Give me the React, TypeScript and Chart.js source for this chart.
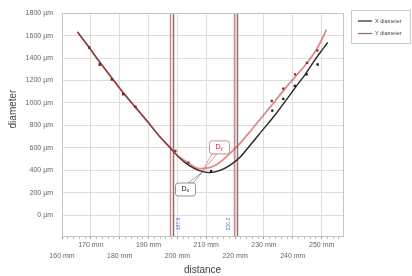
import React, { useEffect, useRef } from 'react';
import { Chart, registerables } from 'chart.js';

Chart.register(...registerables);

// ---- data (mm / µm) ----
const fitYmm = [165.35, 169.41, 173.23, 177.4, 181.22, 185.39, 189.56, 193.73, 197.2, 200.68, 204.15, 207.63, 211.1, 214.58, 218.05, 221.52, 225.0, 229.5, 233.7, 237.8, 241.7, 245.1, 248.6, 251.7];
const fitYum = [1633, 1495, 1359, 1219, 1091, 964, 837, 705, 608, 521, 459, 415, 424, 468, 547, 635, 740, 881, 1012, 1144, 1258, 1363, 1495, 1653];
const fitXmm = [165.35, 169.41, 173.23, 177.4, 181.22, 185.39, 189.56, 193.73, 197.2, 200.68, 204.15, 207.63, 211.1, 214.58, 218.05, 221.52, 225.0, 229.5, 233.7, 237.8, 241.3, 244.4, 246.9, 249.3, 252.1];
const fitXum = [1633, 1495, 1359, 1219, 1091, 964, 837, 705, 610, 512, 442, 398, 380, 398, 442, 512, 617, 758, 889, 1030, 1153, 1258, 1355, 1443, 1539];

const ptsYmm = [169.4, 173.1, 177.3, 181.2, 185.4, 199.3, 203.8, 232.7, 236.7, 240.8, 244.9, 248.5];
const ptsYum = [1495, 1343, 1211, 1079, 965, 573, 468, 1018, 1129, 1256, 1357, 1466];
const ptsXmm = [169.4, 173.1, 177.3, 181.2, 185.4, 211.7, 232.9, 236.7, 240.7, 244.8, 248.6];
const ptsXum = [1495, 1343, 1211, 1079, 965, 392, 933, 1036, 1153, 1255, 1343];

const yTickValues = [0, 200, 400, 600, 800, 1000, 1200, 1400, 1600, 1800];

const markerRedMm = [197.4, 219.6];
const markerDarkMm = [198.6, 220.8];
const markerNotes = ['197.9', '220.2'];

const dyAnchor = { x: 208.7, y: 395 };
const dxAnchor = { x: 208.7, y: 385 };

const seriesNames = ['X diameter', 'Y diameter'];
const xTitle = 'distance';
const yTitle = 'diameter';

const X_MIN = 160;
const X_MAX = 257.4;
const Y_MIN = -185;
const Y_MAX = 1800;

const RED = 'rgba(205,70,70,0.62)';
const DARK = '#262626';
const FONT = '"Liberation Sans", Arial, sans-serif';

const toXY = (xs: number[], ys: number[]) => xs.map((x, i) => ({ x, y: ys[i] }));

const decor = {
  id: 'decor',
  beforeDatasetsDraw(chart: any) {
    const { ctx, chartArea: a, scales } = chart;
    const xs = scales.x;
    ctx.save();
    const vline = (v: number, color: string) => {
      const px = Math.round(xs.getPixelForValue(v)) + 0.5;
      ctx.strokeStyle = color;
      ctx.lineWidth = 1.5;
      ctx.beginPath();
      ctx.moveTo(px, a.top);
      ctx.lineTo(px, a.bottom);
      ctx.stroke();
    };
    markerRedMm.forEach((v) => vline(v, 'rgba(195,130,130,0.9)'));
    markerDarkMm.forEach((v) => vline(v, 'rgba(125,100,100,0.9)'));
    ctx.fillStyle = '#4a78b8';
    ctx.font = `5px ${FONT}`;
    ctx.textAlign = 'center';
    ctx.textBaseline = 'middle';
    markerNotes.forEach((t, i) => {
      const base = i === 0 ? xs.getPixelForValue(markerDarkMm[0]) + 5 : xs.getPixelForValue(markerRedMm[1]) - 5;
      ctx.save();
      ctx.translate(base, a.bottom - 12);
      ctx.rotate(-Math.PI / 2);
      ctx.fillText(t, 0, 0);
      ctx.restore();
    });
    ctx.restore();
  },
  afterDraw(chart: any) {
    const { ctx, chartArea: a, scales } = chart;
    const xs = scales.x;
    const ys = scales.y;
    ctx.save();
    ctx.strokeStyle = '#c4c4c4';
    ctx.lineWidth = 1;
    ctx.strokeRect(Math.round(a.left) + 0.5, Math.round(a.top) + 0.5, Math.round(a.right - a.left), Math.round(a.bottom - a.top));

    const callout = (anchor: { x: number; y: number }, dx: number, dy: number, label: string, stroke: string, text: string, fromTop: boolean) => {
      const ax = xs.getPixelForValue(anchor.x);
      const ay = ys.getPixelForValue(anchor.y);
      const w = 20;
      const h = 13;
      const bx = ax + dx;
      const by = ay + dy;
      const px = fromTop ? bx + w - 5 : bx + 5;
      const py = fromTop ? by : by + h;
      ctx.beginPath();
      ctx.moveTo(px - 2.5, py);
      ctx.lineTo(ax, ay);
      ctx.lineTo(px + 2.5, py);
      ctx.closePath();
      ctx.fillStyle = '#ffffff';
      ctx.fill();
      ctx.strokeStyle = stroke;
      ctx.lineWidth = 0.8;
      ctx.stroke();
      const r = 2.5;
      ctx.beginPath();
      ctx.moveTo(bx + r, by);
      ctx.arcTo(bx + w, by, bx + w, by + h, r);
      ctx.arcTo(bx + w, by + h, bx, by + h, r);
      ctx.arcTo(bx, by + h, bx, by, r);
      ctx.arcTo(bx, by, bx + w, by, r);
      ctx.closePath();
      ctx.fillStyle = '#ffffff';
      ctx.fill();
      ctx.strokeStyle = stroke;
      ctx.lineWidth = 0.9;
      ctx.stroke();
      ctx.fillStyle = text;
      ctx.font = `7px ${FONT}`;
      ctx.textAlign = 'left';
      ctx.textBaseline = 'middle';
      ctx.fillText(label[0], bx + 6, by + h / 2);
      const w0 = ctx.measureText(label[0]).width;
      ctx.font = `5px ${FONT}`;
      ctx.fillText(label.slice(1), bx + 6 + w0, by + h / 2 + 1.5);
    };
    callout(dyAnchor, 7, -30, 'Dy', '#d08080', '#b03030', false);
    callout(dxAnchor, -27, 11, 'Dx', '#888888', '#222222', true);

    ctx.fillStyle = '#444444';
    ctx.font = `10px ${FONT}`;
    ctx.textAlign = 'center';
    ctx.textBaseline = 'middle';
    ctx.fillText(xTitle, (a.left + a.right) / 2, 270);
    ctx.save();
    ctx.translate(13, 109);
    ctx.rotate(-Math.PI / 2);
    ctx.fillText(yTitle, 0, 0);
    ctx.restore();

    const lx = 351;
    const ly = 10;
    ctx.fillStyle = '#ffffff';
    ctx.fillRect(lx, ly, 59, 33);
    ctx.strokeStyle = '#cccccc';
    ctx.lineWidth = 1;
    ctx.strokeRect(lx + 0.5, ly + 0.5, 59, 33);
    const colors = [DARK, 'rgb(200,80,80)'];
    ctx.font = `5.5px ${FONT}`;
    ctx.textAlign = 'left';
    ctx.textBaseline = 'middle';
    seriesNames.forEach((n, i) => {
      const yy = ly + 11 + i * 12.5;
      ctx.strokeStyle = colors[i];
      ctx.lineWidth = 1.2;
      ctx.beginPath();
      ctx.moveTo(lx + 7, yy);
      ctx.lineTo(lx + 21, yy);
      ctx.stroke();
      ctx.fillStyle = '#444444';
      ctx.fillText(n, lx + 24, yy);
    });
    ctx.restore();
  },
};

export default function App() {
  const ref = useRef<HTMLCanvasElement>(null);
  useEffect(() => {
    const chart = new Chart(ref.current as HTMLCanvasElement, {
      type: 'scatter',
      data: {
        datasets: [
          {
            label: 'Y points',
            data: toXY(ptsYmm, ptsYum),
            pointStyle: 'rect',
            pointRadius: 1.6,
            backgroundColor: '#9a2525',
            borderWidth: 0,
            order: 0,
          },
          {
            label: 'X points',
            data: toXY(ptsXmm, ptsXum),
            pointStyle: 'rect',
            pointRadius: 1.6,
            backgroundColor: '#151515',
            borderWidth: 0,
            order: 0,
          },
          {
            label: seriesNames[1],
            data: toXY(fitYmm, fitYum),
            showLine: true,
            pointRadius: 0,
            borderColor: RED,
            borderWidth: 1.8,
            cubicInterpolationMode: 'monotone',
            order: 1,
          },
          {
            label: seriesNames[0],
            data: toXY(fitXmm, fitXum),
            showLine: true,
            pointRadius: 0,
            borderColor: DARK,
            borderWidth: 1.4,
            cubicInterpolationMode: 'monotone',
            order: 2,
          },
        ],
      } as any,
      options: {
        animation: false,
        responsive: false,
        devicePixelRatio: 1,
        layout: { padding: { left: 0, top: 10, right: 69, bottom: 0 } },
        plugins: { legend: { display: false }, tooltip: { enabled: false } },
        scales: {
          x: {
            type: 'linear',
            min: X_MIN,
            max: X_MAX,
            afterFit: (s: any) => {
              s.height = 40;
            },
            ticks: {
              stepSize: 2,
              autoSkip: false,
              maxRotation: 0,
              includeBounds: false,
              color: '#666666',
              padding: 1,
              font: { size: 7, family: FONT, lineHeight: 1.55 },
              callback: (v: any) => {
                const n = Math.round(Number(v));
                if (n % 10 !== 0) return '';
                return (n / 10) % 2 === 1 ? [`${n} mm`] : ['', `${n} mm`];
              },
            },
            grid: {
              color: (c: any) => (c.tick && Math.round(c.tick.value) % 10 === 0 ? '#dddddd' : 'rgba(0,0,0,0)'),
              tickColor: (c: any) => (c.tick && Math.round(c.tick.value) % 10 === 0 ? '#999999' : '#bbbbbb'),
              tickLength: 3,
              drawTicks: true,
            },
            border: { display: true, color: '#aaaaaa' },
          },
          y: {
            type: 'linear',
            min: Y_MIN,
            max: Y_MAX,
            afterFit: (s: any) => {
              s.width = 62;
            },
            afterBuildTicks: (s: any) => {
              s.ticks = yTickValues.map((v) => ({ value: v }));
            },
            ticks: {
              autoSkip: false,
              color: '#666666',
              padding: 9,
              font: { size: 7, family: FONT },
              callback: (v: any) => `${v} µm`,
            },
            grid: { color: '#dddddd', drawTicks: false },
            border: { display: true, color: '#c4c4c4' },
          },
        },
      } as any,
      plugins: [decor],
    });
    return () => chart.destroy();
  }, []);
  return (
    <canvas
      ref={ref}
      width={412}
      height={276}
      style={{ position: 'absolute', left: 0, top: 0, width: 412, height: 276 }}
    />
  );
}
